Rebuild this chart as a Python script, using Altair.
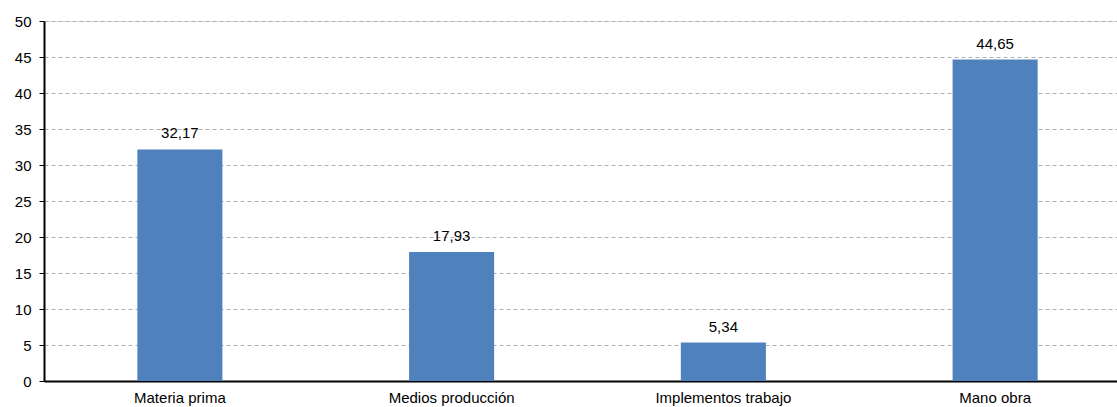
import altair as alt
import pandas as pd

categories = ["Materia prima", "Medios producción", "Implementos trabajo", "Mano obra"]
values = [32.17, 17.93, 5.34, 44.65]
labels = [f"{v:.2f}".replace(".", ",") for v in values]
y_ticks = [0, 5, 10, 15, 20, 25, 30, 35, 40, 45, 50]

df = pd.DataFrame({"cat": categories, "val": values, "lab": labels})

FONT = "Liberation Sans"
FS = 15

base = alt.Chart(df).encode(
    x=alt.X("cat:N", sort=categories, title=None,
            scale=alt.Scale(paddingInner=0.687, paddingOuter=0.3435, range=[0, 1087]),
            axis=alt.Axis(labelAngle=0, ticks=False, domainColor="black", domainWidth=2,
                          labelFont=FONT, labelFontSize=FS, labelColor="black", labelPadding=9,
                          grid=False)),
    y=alt.Y("val:Q", title=None,
            scale=alt.Scale(domain=[0, 50]),
            axis=alt.Axis(values=y_ticks, labelOverlap=False, domain=True, domainColor="black",
                          domainWidth=2, tickColor="black", tickSize=5, tickWidth=1,
                          labelFont=FONT, labelFontSize=FS, labelColor="black", labelPadding=8,
                          grid=True, gridColor="#b0b0b0", gridDash=[4, 3], gridWidth=1)),
)

bars = base.mark_bar(color="#4F81BD")

text = base.mark_text(font=FONT, fontSize=FS, color="black", baseline="alphabetic", dy=-11).encode(
    text="lab:N"
)

chart = (bars + text).properties(
    width=1073, height=360,
    autosize=alt.AutoSizeParams(type="none"),
    padding={"left": 44, "top": 21, "right": 0, "bottom": 26},
).configure_view(stroke=None).configure(background="white")

chart.save("out.html", embed_options={"renderer": "svg", "actions": False})
